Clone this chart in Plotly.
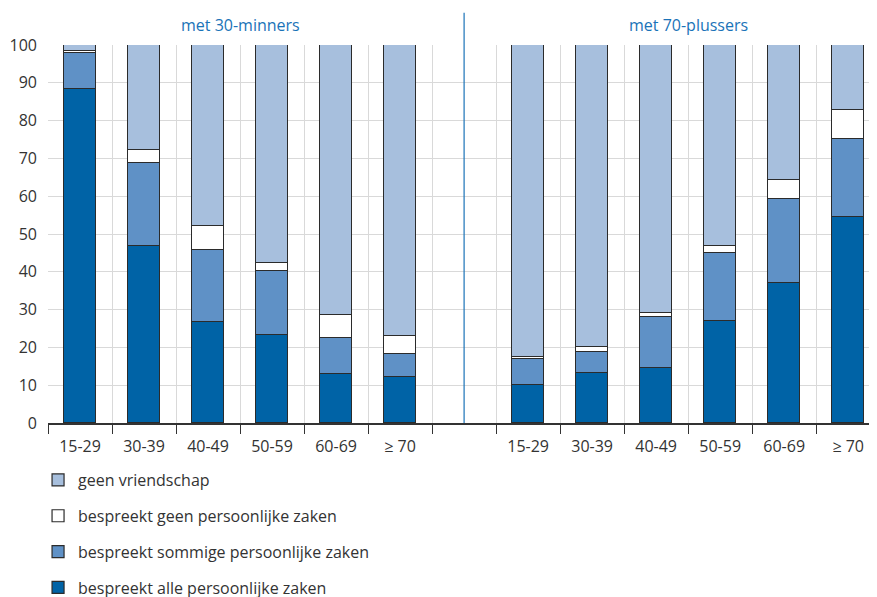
import plotly.graph_objects as go

categories = ["15-29", "30-39", "40-49", "50-59", "60-69", "≥ 70"]
group_titles = ["met 30-minners", "met 70-plussers"]

# met 30-minners
young_alle = [88.4, 46.9, 26.6, 23.3, 13.0, 12.2]
young_sommige = [9.6, 21.9, 19.3, 16.8, 9.5, 6.1]
young_geen = [0.5, 3.4, 6.1, 2.1, 6.0, 4.7]
young_vriend = [1.5, 27.8, 48.0, 57.8, 71.5, 77.0]

# met 70-plussers
old_alle = [10.0, 13.1, 14.6, 27.1, 37.0, 54.4]
old_sommige = [7.0, 5.8, 13.5, 17.8, 22.3, 20.7]
old_geen = [0.4, 1.3, 1.0, 1.8, 5.0, 7.8]
old_vriend = [82.6, 79.8, 70.9, 53.3, 35.7, 17.1]

series_names = [
    "bespreekt alle persoonlijke zaken",
    "bespreekt sommige persoonlijke zaken",
    "bespreekt geen persoonlijke zaken",
    "geen vriendschap",
]
colors = ["#0063a6", "#5f91c6", "#ffffff", "#a7bfdd"]

n = len(categories)
x_young = list(range(n))
x_old = [i + n + 1 for i in range(n)]
xs = x_young + x_old

series_vals = [
    young_alle + old_alle,
    young_sommige + old_sommige,
    young_geen + old_geen,
    young_vriend + old_vriend,
]

fig = go.Figure()
for k, (name, vals, col) in enumerate(zip(series_names, series_vals, colors)):
    fig.add_trace(go.Bar(
        x=xs, y=vals, name=name, width=0.5,
        marker=dict(color=col, line=dict(color="#2b2b2b", width=1.2)),
        legendgroup=name, legendrank=1000 - k,
    ))

font_family = "Open Sans, Lato, sans-serif"
fig.update_layout(
    barmode="stack",
    width=869, height=589,
    margin=dict(l=40, r=0, t=37, b=174, autoexpand=False),
    plot_bgcolor="white", paper_bgcolor="white",
    font=dict(family=font_family, size=16, color="#333333"),
    bargap=0,
    showlegend=True,
    legend=dict(
        x=-0.012, xanchor="left", y=-0.106, yanchor="top",
        traceorder="grouped", tracegroupgap=12,
        font=dict(size=16, color="#333333"),
        itemwidth=30,
    ),
    xaxis=dict(
        range=[-0.5, 12.45],
        tickmode="array", tickvals=xs, ticktext=categories + categories,
        ticks="", showgrid=False, zeroline=False,
        showline=True, linecolor="#333333", linewidth=1.5,
        tickfont=dict(size=16, color="#333333"),
        ticklabelstandoff=8,
        minor=dict(tick0=0.5, dtick=1, ticks="outside", ticklen=9,
                   tickcolor="#333333", tickwidth=1.2,
                   showgrid=True, gridcolor="#d9d9d9", gridwidth=1),
    ),
    yaxis=dict(
        range=[0, 100], tickmode="linear", tick0=0, dtick=10,
        showgrid=True, gridcolor="#d9d9d9", gridwidth=1,
        zeroline=False, ticks="", ticklabelstandoff=10,
        tickfont=dict(size=16, color="#333333"),
    ),
)

fig.add_shape(type="line", xref="x", yref="paper", x0=n, x1=n, y0=0, y1=1.085,
              line=dict(color="#1a73b8", width=1.2))

centers = [(x_young[0] + x_young[-1]) / 2, (x_old[0] + x_old[-1]) / 2]
for cx, t in zip(centers, group_titles):
    fig.add_annotation(x=cx, xref="x", y=1.053, yref="paper", text=t,
                       showarrow=False, yanchor="middle",
                       font=dict(size=16, color="#1a73b8", family=font_family))

fig.write_html("out.html")
